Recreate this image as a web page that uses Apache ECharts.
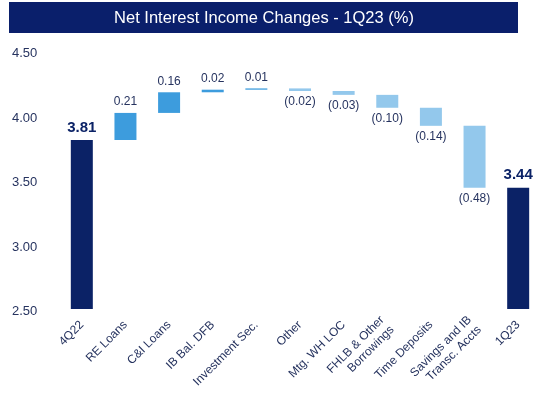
<!DOCTYPE html>
<html>
<head>
<meta charset="utf-8">
<script src="https://cdn.jsdelivr.net/npm/echarts@6/dist/echarts.min.js"></script>
<style>html,body{margin:0;padding:0;background:#fff;}#c{width:542px;height:397px;}</style>
</head>
<body>
<div id="c"></div>
<script>
const categories = ['4Q22','RE Loans','C&I Loans','IB Bal. DFB','Investment Sec.','Other','Mtg. WH LOC','FHLB & Other\nBorrowings','Time Deposits','Savings and IB\nTransc. Accts','1Q23'];
const startValue = 3.81;
const changes = [0.21, 0.16, 0.02, 0.01, -0.02, -0.03, -0.10, -0.14, -0.48];
const endValue = 3.44;
const yTicks = [2.5, 3.0, 3.5, 4.0, 4.5];

const NAVY = '#0b2266';
const POS = '#3d9cdd';
const NEG = '#93c8ec';
const TXT = '#26335f';

// build waterfall helper / visible series
const helper = [0];
const visible = [{value: startValue, itemStyle: {color: NAVY}, label: {show: true, position: 'top', fontWeight: 'bold', fontSize: 15, color: NAVY, formatter: startValue.toFixed(2)}}];
let run = startValue;
changes.forEach(d => {
  const next = Math.round((run + d) * 100) / 100;
  helper.push(Math.min(run, next));
  const isPos = d >= 0;
  visible.push({
    value: Math.abs(d),
    itemStyle: {color: isPos ? POS : NEG},
    label: {show: true, position: isPos ? 'top' : 'bottom', fontSize: 12, color: TXT,
      formatter: isPos ? d.toFixed(2) : '(' + Math.abs(d).toFixed(2) + ')'}
  });
  run = next;
});
helper.push(0);
visible.push({value: endValue, itemStyle: {color: NAVY}, label: {show: true, position: 'top', fontWeight: 'bold', fontSize: 15, color: NAVY, formatter: endValue.toFixed(2)}});

const chart = echarts.init(document.getElementById('c'));
chart.setOption({
  animation: false,
  textStyle: {fontFamily: 'Liberation Sans, Arial, sans-serif'},
  graphic: [
    {type: 'rect', shape: {x: 9, y: 2, width: 509, height: 31}, style: {fill: '#0a1f6b'}},
    {type: 'text', x: 264, y: 18, style: {text: 'Net Interest Income Changes - 1Q23 (%)', fill: '#fff', font: '16.5px Liberation Sans, Arial, sans-serif', align: 'center', verticalAlign: 'middle'}}
  ],
  grid: {left: 60, right: 2, top: 51, bottom: 88},
  xAxis: {
    type: 'category', data: categories,
    axisLine: {show: false}, axisTick: {show: false},
    axisLabel: {rotate: 45, interval: 0, color: TXT, fontSize: 12, margin: 14, lineHeight: 14, padding: [6, 0, 0, 0]}
  },
  yAxis: {
    type: 'value', min: 2.5, max: 4.5, interval: 0.5,
    splitLine: {show: false}, axisLine: {show: false}, axisTick: {show: false},
    axisLabel: {color: TXT, fontSize: 13, align: 'left', margin: 48,
      formatter: v => '{t|' + v.toFixed(2) + '}',
      rich: {t: {color: TXT, fontSize: 13, padding: [5, 0, 0, 0]}}}
  },
  series: [
    {type: 'bar', stack: 'w', data: helper, itemStyle: {color: 'transparent'}, barWidth: 22, silent: true},
    {type: 'bar', stack: 'w', data: visible, barWidth: 22, label: {distance: 5}}
  ]
});
</script>
</body>
</html>
